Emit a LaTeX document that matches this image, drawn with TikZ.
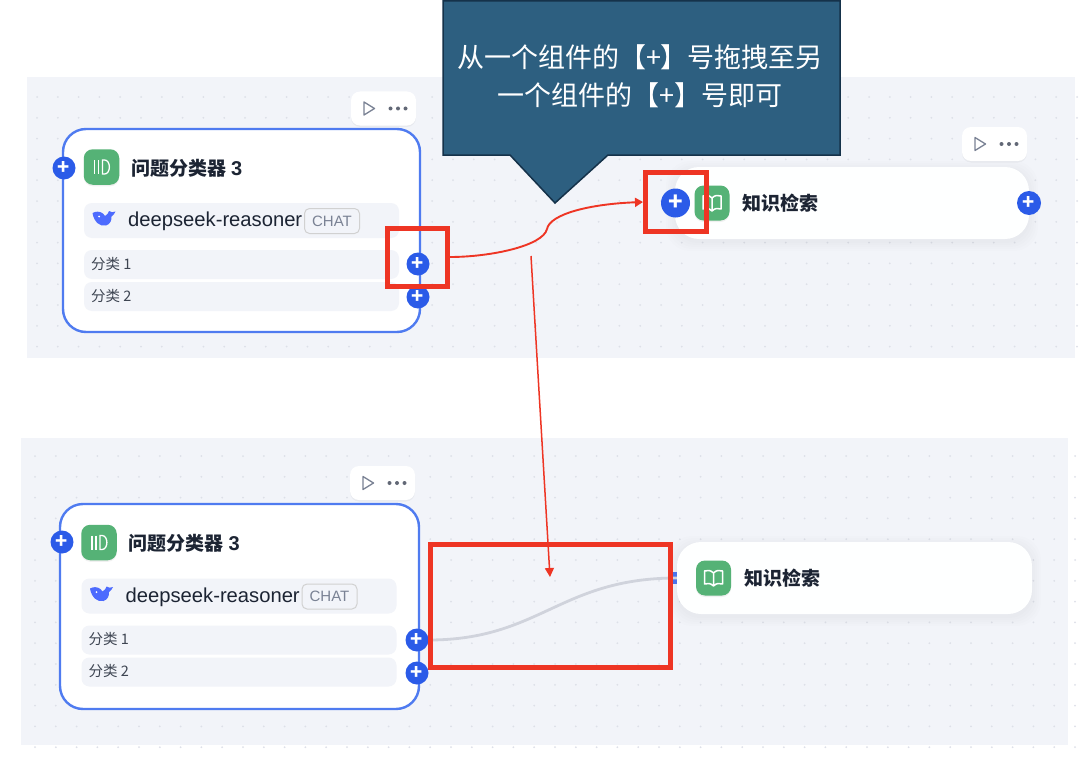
\documentclass[tikz,border=0pt]{standalone}
\usepackage{fontspec}
\setmainfont{Noto Sans CJK SC}
\newfontfamily\latinfont{Liberation Sans}
\usetikzlibrary{arrows.meta,shadows}

\definecolor{panelbg}{HTML}{F2F4F9}
\definecolor{paneldot}{HTML}{DDE0E8}
\definecolor{cardblue}{HTML}{4F7BF0}
\definecolor{plusblue}{HTML}{2B5BE8}
\definecolor{whaleblue}{HTML}{4D6BFE}
\definecolor{icongreen}{HTML}{55B276}
\definecolor{markred}{HTML}{EE3524}
\definecolor{calloutbg}{HTML}{2D5F80}
\definecolor{calloutline}{HTML}{15324A}
\definecolor{inktext}{HTML}{1C2433}
\definecolor{greytext}{HTML}{7A8294}
\definecolor{linkgrey}{HTML}{D0D3DC}

\tikzset{
  panel/.style={fill=panelbg,draw=none},
  classcard/.style={draw=cardblue,line width=2.4pt,outer sep=0pt,fill=white!98!panelbg,rounded corners=23pt},
  flatcard/.style={fill=white!96!panelbg,draw=none,rounded corners=24pt},
  toolbar/.style={fill=white,draw=none,rounded corners=9pt,drop shadow={shadow xshift=0pt,shadow yshift=-1.5pt,opacity=.04,fill=black}},
  greenicon/.style={fill=icongreen,draw=none,rounded corners=9pt,drop shadow={shadow xshift=0pt,shadow yshift=-1.5pt,opacity=.06,fill=black}},
  rowbar/.style={fill=panelbg,draw=none,rounded corners=8pt},
  plusdot/.style={circle,fill=plusblue,text=white,inner sep=0pt,minimum size=23pt,font=\bfseries\fontsize{20}{20}\selectfont},
  redbox/.style={draw=markred,line width=5pt,fill=none,inner sep=0pt},
  redline/.style={draw=markred,line width=1.9pt},
  cardtitle/.style={anchor=west,inner sep=0pt,text=inktext,font=\bfseries\fontsize{19}{19}\selectfont},
  rowtext/.style={anchor=west,inner sep=0pt,text=inktext!85,font=\fontsize{14.5}{14.5}\selectfont},
}

\newcommand{\plussign}{\raisebox{-1.5pt}{+}}

% soft shadow under a flat card
\newcommand{\softshadow}[4]{
  \foreach \s in {1,3,5,7,9}
    \fill[black,opacity=.008,rounded corners=24pt] (#1-\s,#2-\s+3) rectangle (#3+\s,#4+\s+3);
}

% toolbar with play triangle and three dots
\newcommand{\toolbarbody}[3]{
  \node[toolbar,minimum width=65pt,minimum height=34pt] (#1) at (#2,#3) {};
  \draw[greytext,line width=1.3pt,line join=round] (#2-19.5,#3-6.5) -- (#2-19.5,#3+6.5) -- (#2-9,#3) -- cycle;
  \foreach \dx in {7,14.5,22} \fill[greytext!80!black] (#2+\dx,#3) circle (2pt);
}

% green square with open book
\newcommand{\bookicon}[3]{
  \node[greenicon,minimum size=35pt,inner sep=0pt] (#1) at (#2,#3) {};
  \draw[white,line width=1.5pt,line join=round] (#2,#3-5) .. controls (#2-3,#3-8) and (#2-6,#3-8) .. (#2-9,#3-7) -- (#2-9,#3+6) .. controls (#2-6,#3+5) and (#2-3,#3+5) .. (#2,#3+8) .. controls (#2+3,#3+5) and (#2+6,#3+5) .. (#2+9,#3+6) -- (#2+9,#3-7) .. controls (#2+6,#3-8) and (#2+3,#3-8) .. (#2,#3-5) -- (#2,#3+8);
}

% classifier card contents, drawn at the origin of its scope
\newcommand{\cardinner}[1]{
  \node[greenicon,minimum size=35.5pt,inner sep=0pt] (#1icon) at (101.5,167) {};
  \draw[white,line width=1.3pt] (94.5,160) -- (94.5,174) (98.5,160) -- (98.5,174);
  \draw[white,line width=1.3pt] (102.5,160) -- (102.5,174) -- (104.5,174) .. controls (111,174) and (111,160) .. (104.5,160) -- cycle;
  \node[cardtitle] (#1title) at (131,168) {问题分类器\hspace{5pt}{\latinfont\fontsize{20}{20}\selectfont 3}};
  \node[rowbar,minimum width=315pt,minimum height=35pt] (#1model) at (241.5,220.5) {};
  \fill[whaleblue] (92.5,213) .. controls (94,222) and (100,227) .. (106,225.5) .. controls (110,224.5) and (112,220) .. (111.5,216.5) .. controls (113,215.5) and (114.5,214) .. (115.5,211.5) .. controls (113,212.5) and (111,212.5) .. (109,211) .. controls (108,213) and (107.5,215) .. (105,216) .. controls (103,212) and (98,211) .. (95,212) -- cycle;
  \fill[white] (99,216.5) circle (1pt);
  \node[anchor=west,inner sep=0pt,text=inktext,font=\latinfont\fontsize{20.2}{20.2}\selectfont] (#1name) at (128,221.5) {deepseek-reasoner};
  \node[draw=black!18,fill=panelbg,rounded corners=5pt,line width=1pt,minimum width=55pt,minimum height=25pt,inner sep=0pt,text=greytext,font=\latinfont\fontsize{15}{15}\selectfont] (#1chat) at (332,221) {CHAT};
  \node[rowbar,minimum width=315pt,minimum height=29pt] (#1rowa) at (241.5,264.5) {};
  \node[rowbar,minimum width=315pt,minimum height=29pt] (#1rowb) at (241.5,296.5) {};
  \node[rowtext] (#1texta) at (91,264) {分类 1};
  \node[rowtext] (#1textb) at (91,296) {分类 2};
}

\begin{document}
\begin{tikzpicture}[x=1pt,y=-1pt]
\useasboundingbox (0,0) rectangle (1080,760);
\fill[white] (0,0) rectangle (1080,760);

% the two canvases with their dot grid
\node[panel,anchor=north west,minimum width=1048pt,minimum height=281pt,inner sep=0pt] (toppanel) at (27,77) {};
\node[panel,anchor=north west,minimum width=1047pt,minimum height=307pt,inner sep=0pt] (botpanel) at (21,438) {};
\foreach \gy in {0,...,12} \foreach \gx in {0,...,50}
  \fill[paneldot] (37+\gx*20.8,97+\gy*20.8) circle (1pt);
\foreach \gy in {0,...,14} \foreach \gx in {0,...,50}
  \fill[paneldot] (35+\gx*20.8,456+\gy*20.8) circle (1pt);

% top row
\toolbarbody{toptoola}{383.5}{108.5}
\node[classcard,anchor=north west,minimum width=357pt,minimum height=203pt] (topcard) at (63,129) {};
\cardinner{top}
\node[plusdot] (topin) at (64,168) {\plussign};
\node[plusdot] (topouta) at (418,264) {\plussign};
\node[plusdot] (topoutb) at (418,297) {\plussign};

\toolbarbody{toptoolb}{994.5}{144}
\softshadow{675}{167}{1029}{239}
\node[flatcard,minimum width=354pt,minimum height=72pt] (topflat) at (852,203) {};
\bookicon{topbook}{712}{203}
\node[cardtitle] (topbooktitle) at (742,203) {知识检索};
\node[plusdot,minimum size=29pt,font=\bfseries\fontsize{24}{24}\selectfont] (topflatin) at (675.5,203) {\plussign};
\node[plusdot,minimum size=24pt] (topflatout) at (1029,203) {\plussign};

% bottom row
\toolbarbody{bottool}{382.5}{483}
\node[classcard,anchor=north west,minimum width=359pt,minimum height=205pt] (botcard) at (60,504) {};
\begin{scope}[shift={(-2.5,375.5)}]
\cardinner{bot}
\end{scope}
\node[plusdot] (botin) at (62,542) {\plussign};
\node[plusdot] (botouta) at (417,640) {\plussign};
\node[plusdot] (botoutb) at (417,673) {\plussign};

\softshadow{677}{542}{1032}{614}
\fill[plusblue!85!white] (672,572) rectangle (680,584);
\node[flatcard,minimum width=355pt,minimum height=72pt] (botflat) at (854.5,578) {};
\bookicon{botbook}{713.5}{578}
\node[cardtitle] (botbooktitle) at (744,578) {知识检索};

% grey link
\draw[linkgrey,line width=2.8pt] (botouta.east) .. controls (540,640) and (560,578) .. (botflat.west);

% callout
\draw[fill=calloutbg,draw=calloutline,line width=1.5pt,line join=miter] (443,0.8) -- (840,0.8) -- (840,155) -- (608,155) -- (555,203) -- (510,155) -- (443,155) -- cycle;
\node[align=center,inner sep=0pt,text=white,font=\fontsize{27}{38}\selectfont] (callouttext) at (640,76) {从一个组件的【+】号拖拽至另\\一个组件的【+】号即可};

% red marks
\node[redbox,minimum width=60pt,minimum height=58pt] (markouta) at (417.5,257) {};
\node[redbox,minimum width=61pt,minimum height=59pt] (markflatin) at (676,202) {};
\node[redbox,minimum width=240pt,minimum height=123pt] (marklink) at (550,606) {};
\coordinate (bendpoint) at (547,229);
\coordinate (dropstart) at (531,256);
\coordinate (droptip) at (550,577);
\draw[redline] (markouta.east) .. controls (490,257) and (543,246) .. (bendpoint);
\draw[redline,-{Triangle[length=8pt,width=9pt]}] (bendpoint) .. controls (550,214) and (590,204) .. (markflatin.west);
\draw[redline,line width=1.5pt,-{Triangle[length=9pt,width=9pt]}] (dropstart) -- (droptip);
\end{tikzpicture}
\end{document}
